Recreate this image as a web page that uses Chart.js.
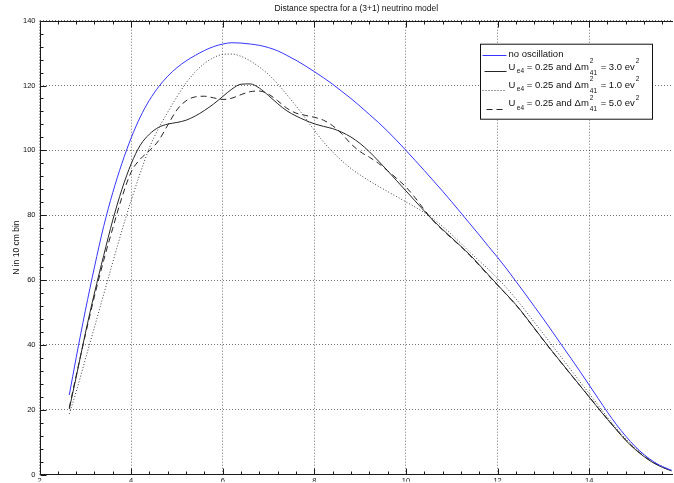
<!DOCTYPE html>
<html>
<head>
<meta charset="utf-8">
<script src="https://cdn.jsdelivr.net/npm/chart.js@4.4.1/dist/chart.umd.min.js"></script>
<style>
  html, body { margin: 0; padding: 0; background: #fff; overflow: hidden; }
  canvas { display: block; }
</style>
</head>
<body>
<canvas id="spectrum" width="674" height="483"></canvas>
<script>
// distance (x) at which the spectra are sampled
const distance = [
  2.65, 2.8, 3.0, 3.2, 3.4, 3.6, 3.8, 4.0, 4.2, 4.4,
  4.6, 4.8, 5.0, 5.2, 5.4, 5.6, 5.8, 6.0, 6.2, 6.4,
  6.6, 6.8, 7.0, 7.2, 7.4, 7.6, 7.8, 8.0, 8.2, 8.4,
  8.6, 8.8, 9.0, 9.2, 9.4, 9.6, 9.8, 10.0, 10.2, 10.4,
  10.6, 10.8, 11.0, 11.2, 11.4, 11.6, 11.8, 12.0, 12.2, 12.4,
  12.6, 12.8, 13.0, 13.2, 13.4, 13.6, 13.8, 14.0, 14.2, 14.4,
  14.6, 14.8, 15.0, 15.2, 15.4, 15.6, 15.8
];

// counts per 10 cm bin
const noOscillation = [
  24.5, 36.0, 50.5, 64.0, 76.5, 87.0, 96.0, 103.8, 110.3, 115.5,
  119.6, 122.9, 125.5, 127.6, 129.3, 130.8, 132.0, 132.8, 133.2, 133.1,
  132.8, 132.4, 131.7, 130.7, 129.3, 127.8, 126.1, 124.3, 122.4, 120.4,
  118.2, 116.0, 113.6, 111.1, 108.6, 105.9, 103.0, 100.0, 96.9, 93.8,
  90.6, 87.4, 84.1, 80.7, 77.3, 73.9, 70.4, 67.0, 63.4, 59.6,
  55.8, 51.9, 48.0, 44.0, 39.9, 35.9, 31.8, 27.6, 23.4, 19.2,
  15.3, 11.8, 8.7, 6.1, 4.0, 2.4, 1.3
];
const dm41sq3 = [
  20.2, 30.0, 43.5, 56.0, 67.5, 78.5, 88.0, 95.8, 101.6, 105.0,
  107.1, 108.1, 108.6, 109.3, 110.6, 112.3, 114.3, 116.6, 118.9, 120.4,
  120.5, 119.2, 116.9, 114.4, 112.2, 110.6, 109.3, 108.2, 107.4, 106.7,
  105.6, 104.1, 102.1, 99.6, 96.7, 93.7, 90.6, 87.5, 84.4, 81.3,
  78.3, 75.6, 73.0, 70.4, 67.7, 64.7, 61.6, 58.5, 55.5, 52.4,
  48.9, 45.2, 41.5, 37.9, 34.4, 30.9, 27.4, 23.9, 20.4, 17.0,
  13.7, 10.5, 7.8, 5.5, 3.6, 2.2, 1.1
];
const dm41sq1 = [
  18.7, 25.5, 35.5, 45.5, 55.5, 65.5, 75.3, 84.5, 93.0, 100.8,
  106.8, 111.8, 116.5, 120.8, 124.2, 126.8, 128.6, 129.6, 129.7, 129.0,
  127.6, 125.7, 123.4, 120.5, 117.2, 113.7, 110.0, 106.2, 102.6, 99.5,
  96.8, 94.4, 92.4, 90.6, 88.9, 87.3, 85.7, 84.1, 82.5, 80.8,
  78.8, 76.5, 74.0, 71.3, 68.5, 65.9, 63.3, 60.5, 57.5, 54.2,
  50.7, 47.0, 43.4, 39.7, 36.0, 32.3, 28.6, 25.0, 21.3, 17.6,
  14.2, 11.0, 8.3, 6.0, 4.0, 2.5, 1.2
];
const dm41sq5 = [
  20.6, 30.5, 43.0, 55.0, 66.0, 76.0, 85.5, 93.3, 97.3, 99.9,
  103.0, 107.8, 112.5, 115.3, 116.5, 116.7, 116.2, 115.7, 116.1, 117.2,
  118.1, 118.3, 117.3, 115.3, 113.0, 111.5, 110.8, 110.2, 109.3, 107.6,
  105.1, 102.0, 99.6, 97.9, 96.0, 93.7, 91.3, 88.7, 85.4, 81.7,
  78.2, 75.4, 72.8, 70.3, 67.5, 64.5, 61.4, 58.4, 55.4, 52.3,
  48.8, 45.1, 41.4, 37.8, 34.3, 30.8, 27.4, 24.0, 20.5, 17.1,
  13.8, 10.6, 7.9, 5.6, 3.7, 2.3, 1.2
];

// legend text; ^{..} superscript, _{..} subscript, ^{..}_{..} stacked
const seriesLabels = [
  'no oscillation',
  'U_{e4} = 0.25 and \u0394m^{2}_{41} = 3.0 ev^{2}',
  'U_{e4} = 0.25 and \u0394m^{2}_{41} = 1.0 ev^{2}',
  'U_{e4} = 0.25 and \u0394m^{2}_{41} = 5.0 ev^{2}'
];

const xTickValues = [2, 4, 6, 8, 10, 12, 14];
const yTickValues = [0, 20, 40, 60, 80, 100, 120, 140];

const FONT = "'Liberation Sans', Arial, sans-serif";
const NARROW = "'Liberation Sans Narrow', 'Liberation Sans', Arial, sans-serif";

const pts = ys => distance.map((x, i) => ({ x: x, y: ys[i] }));

// draws a label with simple sub/superscript markup, returns the width used
function drawRich(ctx, text, x, y, size) {
  const small = Math.round(size * 0.68 * 10) / 10;
  const parts = text.split(/(\^\{[^}]*\}_\{[^}]*\}|\^\{[^}]*\}|_\{[^}]*\})/).filter(Boolean);
  let cx = x;
  for (const p of parts) {
    let m;
    if ((m = p.match(/^\^\{([^}]*)\}_\{([^}]*)\}$/))) {
      ctx.font = small + 'px ' + FONT;
      const w = Math.max(ctx.measureText(m[1]).width, ctx.measureText(m[2]).width);
      ctx.fillText(m[1], cx + 1, y - 6.5);
      ctx.fillText(m[2], cx + 1, y + 5);
      cx += w + 2;
    } else if ((m = p.match(/^\^\{([^}]*)\}$/))) {
      ctx.font = small + 'px ' + FONT;
      ctx.fillText(m[1], cx + 1, y - 6.5);
      cx += ctx.measureText(m[1]).width + 1;
    } else if ((m = p.match(/^_\{([^}]*)\}$/))) {
      ctx.font = small + 'px ' + FONT;
      ctx.fillText(m[1], cx + 1.5, y + 3.5);
      cx += ctx.measureText(m[1]).width + 1.5;
    } else {
      ctx.font = size + 'px ' + FONT;
      ctx.fillText(p, cx, y);
      cx += ctx.measureText(p).width;
    }
  }
  return cx - x;
}

// axis box with inward minor/major tick marks
const frame = {
  id: 'frame',
  afterDatasetsDraw(chart) {
    const { ctx, chartArea: a, scales: { x, y } } = chart;
    ctx.save();
    ctx.strokeStyle = '#1a1a1a';
    ctx.lineWidth = 1;
    ctx.setLineDash([]);
    const L = Math.round(a.left) + 0.5, T = Math.round(a.top) + 0.5, B = Math.round(a.bottom) - 0.5;
    ctx.beginPath();
    ctx.moveTo(L, T); ctx.lineTo(L, B); ctx.lineTo(a.right, B);
    ctx.moveTo(L, T); ctx.lineTo(a.right, T);
    for (let i = 0; 2 + i * 0.4 <= x.max + 1e-9; i++) {
      const px = Math.round(x.getPixelForValue(2 + i * 0.4)) + 0.5;
      const len = i % 5 === 0 ? 6 : 3;
      ctx.moveTo(px, B); ctx.lineTo(px, B - len);
      ctx.moveTo(px, T); ctx.lineTo(px, T + len);
    }
    for (let i = 0; i * 4 <= 140; i++) {
      const py = Math.round(y.getPixelForValue(i * 4)) + 0.5;
      const len = i % 5 === 0 ? 6 : 3;
      ctx.moveTo(L, py); ctx.lineTo(L + len, py);
    }
    ctx.stroke();
    ctx.restore();
  }
};

// boxed legend in the upper right corner
const legendBox = {
  id: 'legendBox',
  afterDraw(chart) {
    const { ctx, chartArea: a } = chart;
    const bx = a.right - 192.5, by = a.top + 23.5, bw = 172, bh = 75;
    ctx.save();
    ctx.fillStyle = '#fff';
    ctx.fillRect(bx, by, bw, bh);
    ctx.strokeStyle = '#111';
    ctx.lineWidth = 1;
    ctx.strokeRect(bx, by, bw, bh);
    const rows = [
      { base: 12.8, line: 10.3 },
      { base: 25.5, line: 26.5 },
      { base: 43.5, line: 45.5 },
      { base: 62.0, line: 64.5 }
    ];
    chart.data.datasets.forEach((ds, i) => {
      const r = rows[i];
      const ly = Math.round(by + r.line) + 0.5;
      ctx.strokeStyle = ds.borderColor;
      ctx.setLineDash(ds.borderDash || []);
      ctx.beginPath();
      if (i === 3) {
        ctx.moveTo(bx + 6, ly); ctx.lineTo(bx + 23, ly);
      } else {
        ctx.moveTo(bx + (i === 1 ? 4 : 2), ly); ctx.lineTo(bx + 26, ly);
      }
      ctx.stroke();
      ctx.setLineDash([]);
      ctx.fillStyle = '#111';
      ctx.textBaseline = 'alphabetic';
      drawRich(ctx, seriesLabels[i], bx + 28, by + r.base, 9.5);
    });
    ctx.restore();
  }
};

const gridStyle = { color: 'rgba(0,0,0,0.55)', lineWidth: 1, drawTicks: false };

new Chart(document.getElementById('spectrum'), {
  type: 'line',
  data: {
    datasets: [
      { label: seriesLabels[0], data: pts(noOscillation), borderColor: '#3535ff', borderDash: [] },
      { label: seriesLabels[1], data: pts(dm41sq3), borderColor: '#262626', borderDash: [] },
      { label: seriesLabels[2], data: pts(dm41sq1), borderColor: '#3a3a3a', borderDash: [1, 2] },
      { label: seriesLabels[3], data: pts(dm41sq5), borderColor: '#262626', borderDash: [6, 4] }
    ]
  },
  options: {
    responsive: false,
    animation: false,
    layout: { padding: { left: 0, right: 1, top: 0, bottom: 0 } },
    elements: {
      point: { radius: 0 },
      line: { borderWidth: 1, cubicInterpolationMode: 'monotone', fill: false }
    },
    plugins: {
      legend: { display: false },
      tooltip: { enabled: false },
      title: {
        display: true,
        fullSize: false,
        text: 'Distance spectra for a (3+1) neutrino model',
        color: '#111',
        font: { family: NARROW, size: 8.5, weight: 'normal', lineHeight: 1.2 },
        padding: { top: 4, bottom: 6.5 }
      }
    },
    scales: {
      x: {
        type: 'linear',
        min: 2,
        max: 15.83,
        afterBuildTicks: s => { s.ticks = xTickValues.map(v => ({ value: v })); },
        afterFit: s => { s.height = 7.3; },
        grid: gridStyle,
        border: { display: false, dash: [1, 2] },
        ticks: { padding: 2, color: '#111', maxRotation: 0, font: { family: FONT, size: 7.5 } }
      },
      y: {
        min: 0,
        max: 140,
        afterBuildTicks: s => { s.ticks = yTickValues.map(v => ({ value: v })); },
        afterFit: s => { s.width = 39.5; },
        grid: gridStyle,
        border: { display: false, dash: [1, 2] },
        ticks: { padding: 4, color: '#111', font: { family: FONT, size: 7.5 } },
        title: {
          display: true,
          text: 'N in 10 cm bin',
          color: '#111',
          font: { family: NARROW, size: 8.5, lineHeight: 1.2 },
          padding: { top: 12, bottom: 0 }
        }
      }
    }
  },
  plugins: [frame, legendBox]
});
</script>
</body>
</html>
